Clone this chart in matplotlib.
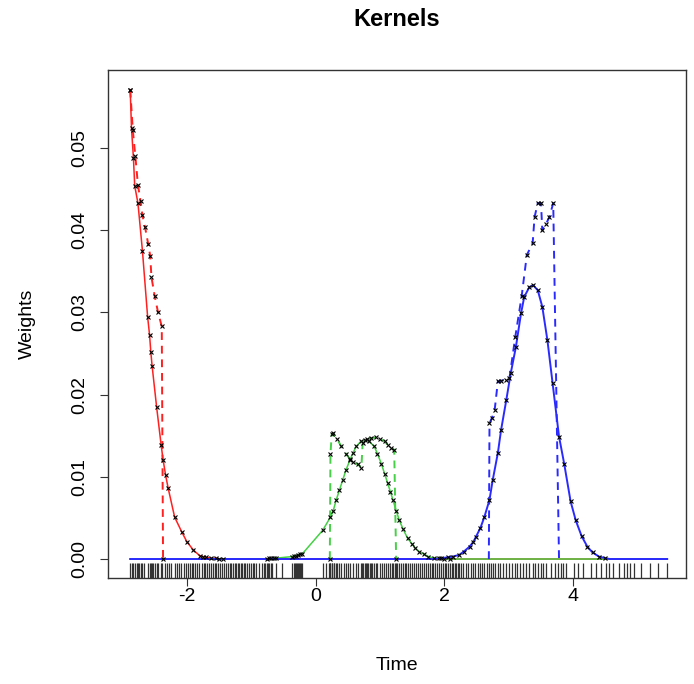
#!/usr/bin/env python3

import numpy as np
import matplotlib as mpl
import matplotlib.pyplot as plt

# global plot style (R base graphics look)
mpl.rcParams['font.family'] = ['Liberation Sans', 'DejaVu Sans']
mpl.rcParams['font.size'] = 14

# ---- data ----
# kernel 1 (red)
red_x = [-2.88, -2.86, -2.83, -2.81, -2.76, -2.69, -2.61, -2.58, -2.56, -2.54, -2.47, -2.40,
         -2.37, -2.33, -2.29, -2.19, -2.08, -2.00, -1.90, -1.80, -1.75, -1.70, -1.62, -1.55,
         -1.50, -1.44]
red_y = [0.0571, 0.0524, 0.0488, 0.0454, 0.0433, 0.0375, 0.0295, 0.0273, 0.0252, 0.0235,
         0.0185, 0.0139, 0.0121, 0.0102, 0.0086, 0.0051, 0.0033, 0.0021, 0.0011, 0.0004,
         0.0003, 0.0002, 0.0001, 0.0001, 0.0000, 0.0000]
red_dash_x = [-2.88, -2.84, -2.80, -2.76, -2.72, -2.69, -2.65, -2.60, -2.57, -2.55, -2.50,
              -2.45, -2.39, -2.37]
red_dash_y = [0.0571, 0.0522, 0.0490, 0.0455, 0.0436, 0.0418, 0.0404, 0.0383, 0.0369, 0.0343,
              0.0320, 0.0301, 0.0283, 0.0]

# kernel 2 (green)
green_x = [-0.75, -0.72, -0.69, -0.65, -0.62, -0.36, -0.33, -0.30, -0.27, -0.24, -0.21, 0.11,
           0.23, 0.27, 0.32, 0.37, 0.42, 0.47, 0.53, 0.58, 0.63, 0.70, 0.76, 0.83, 0.91, 0.96,
           1.02, 1.07, 1.12, 1.16, 1.20, 1.25, 1.30, 1.36, 1.43, 1.50, 1.55, 1.61, 1.68, 1.75,
           1.84, 1.92, 2.00, 2.08]
green_y = [0.0000, 0.0001, 0.0001, 0.0001, 0.0001, 0.0003, 0.0004, 0.0004, 0.0005, 0.0006,
           0.0006, 0.0035, 0.0051, 0.0058, 0.0072, 0.0084, 0.0096, 0.0108, 0.0120, 0.0129,
           0.0137, 0.0143, 0.0145, 0.0143, 0.0137, 0.0128, 0.0116, 0.0104, 0.0092, 0.0082,
           0.0072, 0.0059, 0.0047, 0.0036, 0.0025, 0.0018, 0.0013, 0.0009, 0.0006, 0.0003,
           0.0001, 0.0001, 0.0000, 0.0000]
green_dash_x = [0.22, 0.23, 0.25, 0.27, 0.33, 0.40, 0.47, 0.53, 0.58, 0.66, 0.71, 0.73, 0.79,
                0.86, 0.94, 1.00, 1.07, 1.12, 1.17, 1.22, 1.25]
green_dash_y = [0.0, 0.0128, 0.0152, 0.0153, 0.0146, 0.0137, 0.0128, 0.0122, 0.0118, 0.0115,
                0.0111, 0.0141, 0.0146, 0.0147, 0.0148, 0.0146, 0.0143, 0.0139, 0.0135, 0.0133,
                0.0]

# kernel 3 (blue)
blue_x = [1.84, 1.95, 2.05, 2.13, 2.23, 2.30, 2.39, 2.45, 2.49, 2.56, 2.62, 2.70, 2.75, 2.83,
          2.88, 2.96, 3.03, 3.11, 3.19, 3.24, 3.32, 3.38, 3.45, 3.52, 3.60, 3.68, 3.78, 3.86,
          3.96, 4.04, 4.13, 4.22, 4.30, 4.40, 4.50, 4.57, 4.62]
blue_y = [0.0000, 0.0001, 0.0002, 0.0003, 0.0005, 0.0009, 0.0015, 0.0021, 0.0027, 0.0038,
          0.0051, 0.0072, 0.0096, 0.0129, 0.0157, 0.0193, 0.0226, 0.0258, 0.0299, 0.0319,
          0.0331, 0.0333, 0.0327, 0.0307, 0.0266, 0.0214, 0.0149, 0.0116, 0.0070, 0.0047,
          0.0028, 0.0015, 0.0008, 0.0003, 0.0001, 0.0000, 0.0000]
blue_dash_x = [2.69, 2.70, 2.74, 2.78, 2.83, 2.88, 2.95, 3.01, 3.10, 3.20, 3.28, 3.37, 3.40,
               3.45, 3.50, 3.52, 3.58, 3.63, 3.69, 3.78]
blue_dash_y = [0.0, 0.0165, 0.0172, 0.0181, 0.0216, 0.0217, 0.0218, 0.0220, 0.0270, 0.0320,
               0.0370, 0.0384, 0.0416, 0.0433, 0.0433, 0.0400, 0.0408, 0.0416, 0.0433, 0.0]

# observation times (rug)
rug_x = [
    -2.88, -2.85, -2.83, -2.80, -2.78, -2.76, -2.74, -2.71, -2.69, -2.66, -2.61, -2.58, -2.56,
    -2.54, -2.52, -2.50, -2.47, -2.45, -2.40, -2.38, -2.34, -2.31, -2.27, -2.24, -2.19, -2.16,
    -2.12, -2.09, -2.05, -2.02, -1.99, -1.95, -1.92, -1.90, -1.87, -1.84, -1.81, -1.77, -1.74,
    -1.72, -1.69, -1.66, -1.63, -1.60, -1.57, -1.54, -1.51, -1.48, -1.45, -1.42, -1.39, -1.36,
    -1.33, -1.31, -1.28, -1.26, -1.23, -1.21, -1.19, -1.16, -1.14, -1.12, -1.09, -1.06, -1.03,
    -1.01, -0.98, -0.95, -0.92, -0.88, -0.84, -0.80, -0.78, -0.76, -0.74, -0.72, -0.70, -0.68,
    -0.62, -0.52, -0.36, -0.34, -0.32, -0.31, -0.29, -0.28, -0.26, -0.25, -0.23, -0.21, 0.12,
    0.16, 0.20, 0.22, 0.23, 0.25, 0.26, 0.28, 0.29, 0.31, 0.33, 0.36, 0.40, 0.44, 0.47, 0.50,
    0.54, 0.58, 0.62, 0.66, 0.70, 0.72, 0.74, 0.76, 0.78, 0.80, 0.82, 0.84, 0.86, 0.88, 0.90,
    0.93, 0.96, 1.00, 1.03, 1.06, 1.10, 1.13, 1.16, 1.18, 1.20, 1.23, 1.25, 1.27, 1.30, 1.33,
    1.36, 1.38, 1.41, 1.44, 1.47, 1.50, 1.53, 1.56, 1.59, 1.62, 1.65, 1.68, 1.71, 1.74, 1.77,
    1.80, 1.83, 1.86, 1.89, 1.92, 1.95, 1.98, 2.01, 2.03, 2.06, 2.08, 2.11, 2.13, 2.16, 2.18,
    2.21, 2.23, 2.26, 2.29, 2.33, 2.37, 2.41, 2.44, 2.48, 2.52, 2.55, 2.59, 2.62, 2.66, 2.69,
    2.72, 2.75, 2.79, 2.83, 2.87, 2.91, 2.95, 3.00, 3.05, 3.09, 3.13, 3.18, 3.22, 3.27, 3.32,
    3.37, 3.40, 3.45, 3.50, 3.53, 3.58, 3.66, 3.71, 3.77, 3.81, 3.84, 3.89, 4.02, 4.07, 4.15,
    4.28, 4.35, 4.43, 4.51, 4.56, 4.62, 4.71, 4.79, 4.84, 4.89, 4.94, 5.05, 5.20, 5.31, 5.46]

xticks = [-2, 0, 2, 4]
yticks = [0.00, 0.01, 0.02, 0.03, 0.04, 0.05]

RED = '#ff2020'
GREEN = '#45d045'
BLUE = '#2a2aff'


def full_range(xs, ys, lo, hi):
    """Extend a kernel curve with zero weight over the whole time range"""
    xs, ys = list(xs), list(ys)
    if xs[0] > lo:
        xs, ys = [lo] + xs, [0.0] + ys
    if xs[-1] < hi:
        xs, ys = xs + [hi], ys + [0.0]
    return xs, ys


def plot_kernels(output='out.png'):
    lo, hi = min(rug_x), max(rug_x)

    fig = plt.figure(figsize=(6.94, 6.84), dpi=100)
    ax = fig.add_axes([108 / 694, 106 / 684, 578 / 694, 508 / 684])

    solid = [(red_x, red_y, RED), (green_x, green_y, GREEN), (blue_x, blue_y, BLUE)]
    dashed = [(red_dash_x, red_dash_y, RED), (green_dash_x, green_dash_y, GREEN),
              (blue_dash_x, blue_dash_y, BLUE)]

    for xs, ys, col in solid:
        fx, fy = full_range(xs, ys, lo, hi)
        lw = 1.4 if col == BLUE else 1.1
        ax.plot(fx, fy, color=col, lw=lw, zorder=2)
    for xs, ys, col in dashed:
        ax.plot(xs, ys, color=col, lw=1.4, dashes=(4, 3), zorder=2)

    # weights at the observations
    for xs, ys, col in solid + dashed:
        pts = [(a, b) for a, b in zip(xs, ys) if b > 0 or col == GREEN or col == RED]
        ax.plot([p[0] for p in pts], [p[1] for p in pts], ls='none', marker='x',
                ms=3.4, mew=0.8, color='black', zorder=3)

    # rug
    ymin = -0.00231
    ax.vlines(rug_x, ymin, ymin + 0.03 * (0.0595 - ymin), color='#333333', lw=0.9, zorder=1)

    ax.set_xlim(-3.225, 5.752)
    ax.set_ylim(ymin, 0.0595)
    ax.set_xticks(xticks)
    ax.set_xticklabels(['{:g}'.format(t) for t in xticks])
    ax.set_yticks(yticks)
    ax.set_yticklabels(['{:.2f}'.format(t) for t in yticks], rotation=90, va='center')
    ax.tick_params(length=6, width=0.8, color='#333333')
    ax.tick_params(axis='x', pad=1)
    ax.tick_params(axis='y', pad=8)
    for sp in ax.spines.values():
        sp.set_linewidth(1.0)
        sp.set_color('#333333')

    ax.set_xlabel('Time')
    ax.xaxis.set_label_coords(0.5, -0.155)
    ax.set_ylabel('Weights')
    ax.yaxis.set_label_coords(-0.125, 0.5)
    fig.text(0.5 * (108 + 686) / 694, 1 - 20 / 684, 'Kernels', ha='center', va='center',
             fontsize=17, fontweight='bold')

    fig.savefig(output, dpi=100)


if __name__ == '__main__':
    plot_kernels()
